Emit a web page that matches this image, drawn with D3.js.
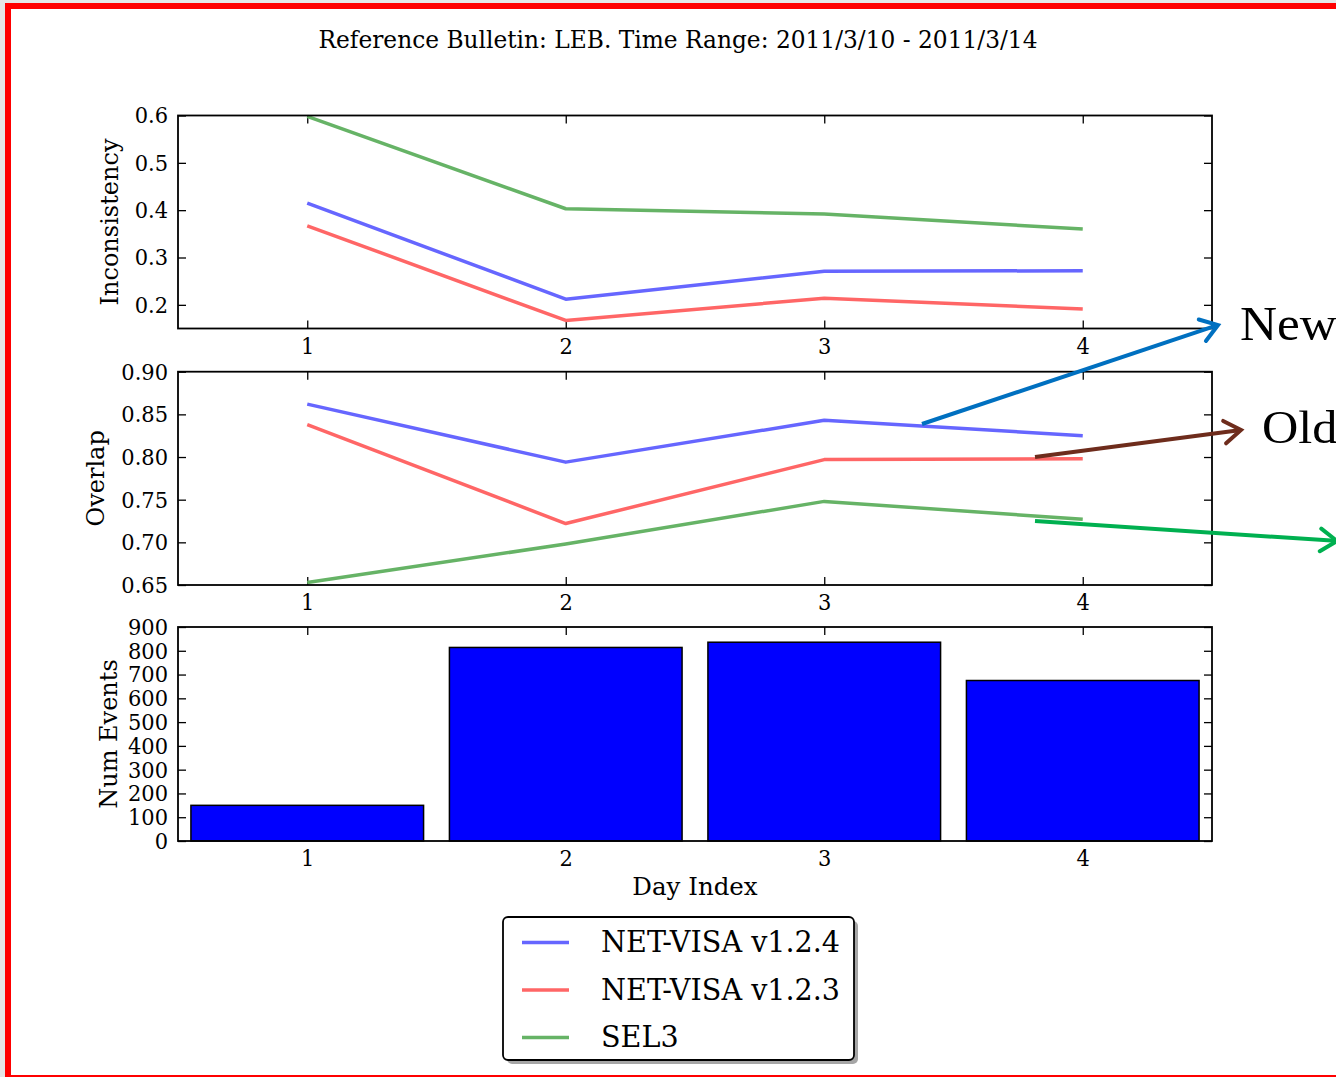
<!DOCTYPE html>
<html>
<head>
<meta charset="utf-8">
<script src="https://cdn.jsdelivr.net/npm/d3@7"></script>
<style>
  html, body { margin: 0; padding: 0; background: #e6e6e6; }
  svg { display: block; }
  text { font-family: "DejaVu Serif", serif; fill: #000; }
</style>
</head>
<body>
<svg id="chart" width="1336" height="1077"></svg>
<script>
// ---- data ----
const days = [1, 2, 3, 4];
const seriesNames = ["NET-VISA v1.2.4", "NET-VISA v1.2.3", "SEL3"];
const seriesColors = ["#6666ff", "#ff6666", "#66b366"];

const inconsistencyNew  = [0.415, 0.212, 0.271, 0.272];
const inconsistencyOld  = [0.367, 0.167, 0.214, 0.191];
const inconsistencySel3 = [0.598, 0.403, 0.392, 0.360];

const overlapNew  = [0.862, 0.794, 0.843, 0.825];
const overlapOld  = [0.838, 0.722, 0.797, 0.798];
const overlapSel3 = [0.653, 0.698, 0.748, 0.727];

const numEvents = [150, 814, 836, 675];

const inconsistencyTicks = [0.2, 0.3, 0.4, 0.5, 0.6];
const overlapTicks = [0.65, 0.70, 0.75, 0.80, 0.85, 0.90];
const eventTicks = [0, 100, 200, 300, 400, 500, 600, 700, 800, 900];

const titleText = "Reference Bulletin: LEB. Time Range: 2011/3/10 - 2011/3/14";

// stretch text vertically about its own anchor point
function stretchY(sel, s) {
  sel.each(function () {
    const t = d3.select(this);
    const tx = +t.attr("x") || 0, ty = +t.attr("y") || 0;
    t.attr("transform", `translate(${tx},${ty}) scale(1,${s}) translate(${-tx},${-ty})`);
  });
}

// ---- page frame ----
const svg = d3.select("#chart");
svg.append("rect").attr("x", 5).attr("y", 3).attr("width", 1400).attr("height", 1074).attr("fill", "#ff0000");
svg.append("rect").attr("x", 11).attr("y", 9).attr("width", 1400).attr("height", 1066).attr("fill", "#ffffff");

svg.append("text")
  .attr("x", 678).attr("y", 48)
  .attr("text-anchor", "middle")
  .style("font-size", "23.3px")
  .text(titleText);

// ---- shared x scale ----
const x = d3.scaleLinear().domain([0.5, 4.5]).range([178, 1212]);
const tickFont = "21px";
const tickLen = 8;

function panel(top, bottom, domain, ticks, fmt, label, labelX) {
  const y = d3.scaleLinear().domain(domain).range([bottom, top]);
  const g = svg.append("g");

  const left = g.append("g").attr("transform", `translate(${x.range()[0]},0)`)
    .call(d3.axisLeft(y).tickValues(ticks).tickFormat(fmt).tickSize(-tickLen).tickPadding(10));
  const right = g.append("g").attr("transform", `translate(${x.range()[1]},0)`)
    .call(d3.axisRight(y).tickValues(ticks).tickFormat("").tickSize(-tickLen));
  const topAx = g.append("g").attr("transform", `translate(0,${top})`)
    .call(d3.axisTop(x).tickValues(days).tickFormat("").tickSize(-tickLen));
  const bot = g.append("g").attr("transform", `translate(0,${bottom})`)
    .call(d3.axisBottom(x).tickValues(days).tickFormat(d3.format("d")).tickSize(-tickLen).tickPadding(9));

  [left, right, topAx, bot].forEach(a => {
    a.select(".domain").remove();
    a.selectAll(".tick line").attr("stroke", "#000").attr("stroke-width", 1.3);
    a.selectAll(".tick text").style("font-size", tickFont).style("font-family", "DejaVu Serif");
  });
  stretchY(left.selectAll(".tick text"), 1.1);
  stretchY(bot.selectAll(".tick text"), 1.1);

  g.append("text")
    .attr("transform", `translate(${labelX},${(top + bottom) / 2}) rotate(-90)`)
    .attr("text-anchor", "middle")
    .style("font-size", "24px")
    .text(label);

  return { g, y, top, bottom };
}

function frame(p) {
  p.g.append("rect")
    .attr("x", x.range()[0]).attr("y", p.top)
    .attr("width", x.range()[1] - x.range()[0]).attr("height", p.bottom - p.top)
    .attr("fill", "none").attr("stroke", "#000").attr("stroke-width", 1.8);
}

function drawLines(p, series) {
  const line = d3.line().x((d, i) => x(days[i])).y(d => p.y(d));
  series.forEach((vals, k) => {
    p.g.append("path")
      .datum(vals)
      .attr("d", line)
      .attr("fill", "none")
      .attr("stroke", seriesColors[k])
      .attr("stroke-width", 3.5)
      .attr("stroke-linejoin", "round");
  });
}

// Inconsistency panel
const p1 = panel(115.5, 328.5, [0.15, 0.6], inconsistencyTicks, d3.format(".1f"), "Inconsistency", 118);
drawLines(p1, [inconsistencyNew, inconsistencyOld, inconsistencySel3]);
frame(p1);

// Overlap panel
const p2 = panel(371.7, 585, [0.65, 0.90], overlapTicks, d3.format(".2f"), "Overlap", 104);
drawLines(p2, [overlapNew, overlapOld, overlapSel3]);
frame(p2);

// Num Events panel
const p3 = panel(627, 841, [0, 900], eventTicks, d3.format("d"), "Num Events", 117);
const barW = 0.9;
p3.g.selectAll("rect.bar")
  .data(numEvents)
  .enter().append("rect")
  .attr("class", "bar")
  .attr("x", (d, i) => x(days[i] - barW / 2))
  .attr("width", x(barW) - x(0))
  .attr("y", d => p3.y(d))
  .attr("height", d => p3.y(0) - p3.y(d))
  .attr("fill", "#0000ff")
  .attr("stroke", "#000")
  .attr("stroke-width", 1.5);
frame(p3);

svg.append("text")
  .attr("x", (x.range()[0] + x.range()[1]) / 2).attr("y", 895)
  .attr("text-anchor", "middle")
  .style("font-size", "24.5px")
  .text("Day Index");

// ---- legend ----
const lg = svg.append("g");
lg.append("rect").attr("x", 507).attr("y", 921).attr("width", 351).attr("height", 143)
  .attr("rx", 5).attr("fill", "#000").attr("opacity", 0.35);
lg.append("rect").attr("x", 503).attr("y", 917).attr("width", 351).attr("height", 143)
  .attr("rx", 5).attr("fill", "#fff").attr("stroke", "#000").attr("stroke-width", 1.8);
seriesNames.forEach((name, k) => {
  const cy = 942.5 + k * 47.5;
  lg.append("line").attr("x1", 522).attr("x2", 569).attr("y1", cy).attr("y2", cy)
    .attr("stroke", seriesColors[k]).attr("stroke-width", 3.5);
  const t = lg.append("text").attr("x", 601).attr("y", cy + 10)
    .style("font-size", "28.6px")
    .text(name);
  stretchY(t, 1.06);
});

// ---- callouts ----
const callouts = [
  { from: [922, 424], to: [1218, 325], color: "#0070c0" },
  { from: [1035, 457], to: [1241, 430], color: "#6e2c1c" },
  { from: [1035, 521], to: [1337, 541], color: "#00b050" }
];
const ann = svg.append("g");
callouts.forEach(c => {
  const [x0, y0] = c.from, [x1, y1] = c.to;
  const ang = Math.atan2(y1 - y0, x1 - x0);
  ann.append("line").attr("x1", x0).attr("y1", y0)
    .attr("x2", x1 - 2 * Math.cos(ang)).attr("y2", y1 - 2 * Math.sin(ang))
    .attr("stroke", c.color).attr("stroke-width", 4);
  const len = 20, spread = 0.6;
  const pts = [
    [x1 - len * Math.cos(ang - spread), y1 - len * Math.sin(ang - spread)],
    [x1, y1],
    [x1 - len * Math.cos(ang + spread), y1 - len * Math.sin(ang + spread)]
  ];
  ann.append("path").attr("d", d3.line()(pts))
    .attr("fill", "none").attr("stroke", c.color).attr("stroke-width", 4)
    .attr("stroke-linecap", "round").attr("stroke-linejoin", "miter");
});
ann.append("text").attr("x", 1240).attr("y", 340)
  .attr("transform", "translate(1240,340) scale(1.07,1) translate(-1240,-340)")
  .style("font-family", "Liberation Serif, serif").style("font-size", "48px").text("New");
ann.append("text").attr("x", 1262).attr("y", 443)
  .attr("transform", "translate(1262,443) scale(1.07,1) translate(-1262,-443)")
  .style("font-family", "Liberation Serif, serif").style("font-size", "47px").text("Old");

// bottom edge of the frame
svg.append("rect").attr("x", 5).attr("y", 1075).attr("width", 1400).attr("height", 2).attr("fill", "#ff0000");
</script>
</body>
</html>
